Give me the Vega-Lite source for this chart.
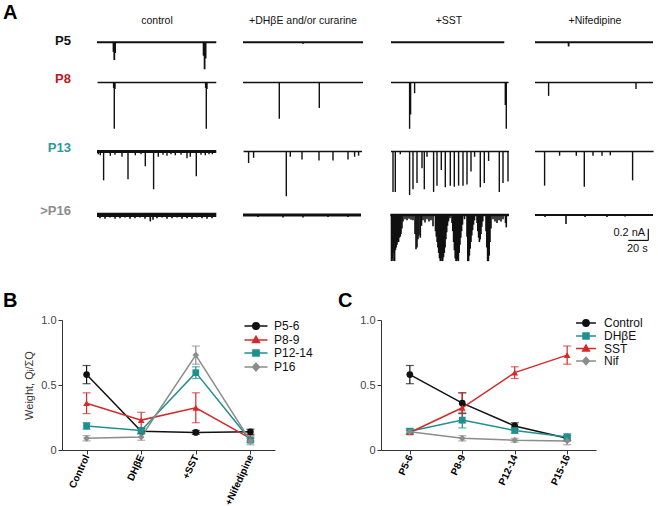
{
"$schema": "https://vega.github.io/schema/vega-lite/v6.json",
"background": "white",
"padding": {"left": 3, "top": 3, "right": 0, "bottom": 0},
"config": {
  "font": "Liberation Sans",
  "view": {"stroke": null},
  "title": {"fontSize": 20, "fontWeight": "bold", "color": "#000", "anchor": "start", "frame": "group"},
  "axis": {"domainColor": "#333", "tickColor": "#333", "tickSize": 4, "grid": false, "labelColor": "#444", "labelFontSize": 11}
},
"datasets": {
  "labels": [{"row": "P5"}, {"row": "P8"}, {"row": "P13"}, {"row": ">P16"}],
  "p5": [
    {"cond": "control", "kind": "base", "t": 0, "t2": 119.3},
    {"cond": "DHbE", "kind": "base", "t": 0, "t2": 120},
    {"cond": "SST", "kind": "base", "t": 2, "t2": 115.3},
    {"cond": "Nif", "kind": "base", "t": 0, "t2": 118},
    {"cond": "control", "kind": "spike", "t": 16.5, "v": -0.18},
    {"cond": "control", "kind": "spike", "t": 17.3, "v": -0.33},
    {"cond": "control", "kind": "spike", "t": 18.1, "v": -0.2},
    {"cond": "control", "kind": "spike", "t": 106.6, "v": -0.25},
    {"cond": "control", "kind": "spike", "t": 107.6, "v": -0.5},
    {"cond": "control", "kind": "spike", "t": 108.6, "v": -0.3},
    {"cond": "DHbE", "kind": "spike", "t": 60, "v": -0.03},
    {"cond": "Nif", "kind": "spike", "t": 33.6, "v": -0.08}
  ],
  "p8": [
    {"cond": "control", "kind": "base", "t": 0.6, "t2": 119.3},
    {"cond": "DHbE", "kind": "base", "t": 0, "t2": 120},
    {"cond": "SST", "kind": "base", "t": 2, "t2": 119.6},
    {"cond": "Nif", "kind": "base", "t": 0, "t2": 118},
    {"cond": "control", "kind": "spike", "t": 16.6, "v": -0.1},
    {"cond": "control", "kind": "spike", "t": 17.3, "v": -0.87},
    {"cond": "control", "kind": "spike", "t": 18, "v": -0.12},
    {"cond": "control", "kind": "spike", "t": 108.6, "v": -0.1},
    {"cond": "control", "kind": "spike", "t": 109.3, "v": -0.87},
    {"cond": "control", "kind": "spike", "t": 110, "v": -0.12},
    {"cond": "DHbE", "kind": "spike", "t": 36.3, "v": -0.68},
    {"cond": "DHbE", "kind": "spike", "t": 76.3, "v": -0.48},
    {"cond": "SST", "kind": "spike", "t": 20.6, "v": -0.87},
    {"cond": "SST", "kind": "spike", "t": 21.6, "v": -0.6},
    {"cond": "SST", "kind": "spike", "t": 25.6, "v": -0.2},
    {"cond": "SST", "kind": "spike", "t": 116.3, "v": -0.42},
    {"cond": "SST", "kind": "spike", "t": 117.3, "v": -0.87},
    {"cond": "Nif", "kind": "spike", "t": 13.6, "v": -0.25},
    {"cond": "Nif", "kind": "spike", "t": 101, "v": -0.12}
  ],
  "p13": [
    {"cond": "control", "kind": "base", "t": 0, "t2": 119.3},
    {"cond": "DHbE", "kind": "base", "t": 0.6, "t2": 119},
    {"cond": "SST", "kind": "base", "t": 2, "t2": 120},
    {"cond": "Nif", "kind": "base", "t": 0, "t2": 118.6},
    {"cond": "control", "kind": "spike", "t": 1.3, "v": -0.05},
    {"cond": "control", "kind": "spike", "t": 3.3, "v": -0.07},
    {"cond": "control", "kind": "spike", "t": 6.6, "v": -0.55},
    {"cond": "control", "kind": "spike", "t": 13.3, "v": -0.08},
    {"cond": "control", "kind": "spike", "t": 18, "v": -0.06},
    {"cond": "control", "kind": "spike", "t": 25, "v": -0.1},
    {"cond": "control", "kind": "spike", "t": 31, "v": -0.53},
    {"cond": "control", "kind": "spike", "t": 38.3, "v": -0.07},
    {"cond": "control", "kind": "spike", "t": 44, "v": -0.05},
    {"cond": "control", "kind": "spike", "t": 48.3, "v": -0.28},
    {"cond": "control", "kind": "spike", "t": 56.6, "v": -0.72},
    {"cond": "control", "kind": "spike", "t": 61.3, "v": -0.1},
    {"cond": "control", "kind": "spike", "t": 66, "v": -0.06},
    {"cond": "control", "kind": "spike", "t": 70, "v": -0.08},
    {"cond": "control", "kind": "spike", "t": 74, "v": -0.05},
    {"cond": "control", "kind": "spike", "t": 78.3, "v": -0.07},
    {"cond": "control", "kind": "spike", "t": 84, "v": -0.06},
    {"cond": "control", "kind": "spike", "t": 90, "v": -0.13},
    {"cond": "control", "kind": "spike", "t": 93.3, "v": -0.1},
    {"cond": "control", "kind": "spike", "t": 99.3, "v": -0.47},
    {"cond": "control", "kind": "spike", "t": 104, "v": -0.06},
    {"cond": "control", "kind": "spike", "t": 108.3, "v": -0.07},
    {"cond": "control", "kind": "spike", "t": 112, "v": -0.05},
    {"cond": "control", "kind": "spike", "t": 115.3, "v": -0.05},
    {"cond": "DHbE", "kind": "spike", "t": 5.6, "v": -0.22},
    {"cond": "DHbE", "kind": "spike", "t": 10.6, "v": -0.12},
    {"cond": "DHbE", "kind": "spike", "t": 43.3, "v": -0.85},
    {"cond": "DHbE", "kind": "spike", "t": 47.3, "v": -0.1},
    {"cond": "DHbE", "kind": "spike", "t": 59, "v": -0.15},
    {"cond": "DHbE", "kind": "spike", "t": 76, "v": -0.17},
    {"cond": "DHbE", "kind": "spike", "t": 90, "v": -0.17},
    {"cond": "DHbE", "kind": "spike", "t": 105, "v": -0.15},
    {"cond": "DHbE", "kind": "spike", "t": 111.6, "v": -0.1},
    {"cond": "DHbE", "kind": "spike", "t": 115.6, "v": -0.08},
    {"cond": "SST", "kind": "spike", "t": 4, "v": -0.77},
    {"cond": "SST", "kind": "spike", "t": 6.3, "v": -0.77},
    {"cond": "SST", "kind": "spike", "t": 11.3, "v": -0.05},
    {"cond": "SST", "kind": "spike", "t": 20.6, "v": -0.83},
    {"cond": "SST", "kind": "spike", "t": 24, "v": -0.72},
    {"cond": "SST", "kind": "spike", "t": 28, "v": -0.6},
    {"cond": "SST", "kind": "spike", "t": 33, "v": -0.32},
    {"cond": "SST", "kind": "spike", "t": 35.3, "v": -0.72},
    {"cond": "SST", "kind": "spike", "t": 38, "v": -0.1},
    {"cond": "SST", "kind": "spike", "t": 44.6, "v": -0.77},
    {"cond": "SST", "kind": "spike", "t": 48, "v": -0.65},
    {"cond": "SST", "kind": "spike", "t": 52.3, "v": -0.35},
    {"cond": "SST", "kind": "spike", "t": 56.3, "v": -0.68},
    {"cond": "SST", "kind": "spike", "t": 61.3, "v": -0.65},
    {"cond": "SST", "kind": "spike", "t": 65.3, "v": -0.67},
    {"cond": "SST", "kind": "spike", "t": 69.6, "v": -0.65},
    {"cond": "SST", "kind": "spike", "t": 74, "v": -0.65},
    {"cond": "SST", "kind": "spike", "t": 78, "v": -0.63},
    {"cond": "SST", "kind": "spike", "t": 82, "v": -0.38},
    {"cond": "SST", "kind": "spike", "t": 85.6, "v": -0.1},
    {"cond": "SST", "kind": "spike", "t": 91.3, "v": -0.68},
    {"cond": "SST", "kind": "spike", "t": 95.3, "v": -0.6},
    {"cond": "SST", "kind": "spike", "t": 99.6, "v": -0.18},
    {"cond": "SST", "kind": "spike", "t": 110.3, "v": -0.77},
    {"cond": "SST", "kind": "spike", "t": 114, "v": -0.6},
    {"cond": "SST", "kind": "spike", "t": 119, "v": -0.57},
    {"cond": "Nif", "kind": "spike", "t": 9.6, "v": -0.65},
    {"cond": "Nif", "kind": "spike", "t": 24.6, "v": -0.08},
    {"cond": "Nif", "kind": "spike", "t": 41.3, "v": -0.08},
    {"cond": "Nif", "kind": "spike", "t": 49.3, "v": -0.67},
    {"cond": "Nif", "kind": "spike", "t": 58, "v": -0.08},
    {"cond": "Nif", "kind": "spike", "t": 67, "v": -0.08},
    {"cond": "Nif", "kind": "spike", "t": 75.3, "v": -0.07},
    {"cond": "Nif", "kind": "spike", "t": 97.6, "v": -0.55}
  ],
  "p16": [
    {"cond": "control", "kind": "base", "t": 0, "t2": 119.3},
    {"cond": "DHbE", "kind": "base", "t": 0, "t2": 118},
    {"cond": "SST", "kind": "base", "t": 1.3, "t2": 120},
    {"cond": "Nif", "kind": "base", "t": 0, "t2": 118},
    {"cond": "control", "kind": "spike", "t": 3, "v": -0.06},
    {"cond": "control", "kind": "spike", "t": 8, "v": -0.07},
    {"cond": "control", "kind": "spike", "t": 13, "v": -0.05},
    {"cond": "control", "kind": "spike", "t": 18, "v": -0.07},
    {"cond": "control", "kind": "spike", "t": 23, "v": -0.06},
    {"cond": "control", "kind": "spike", "t": 28, "v": -0.05},
    {"cond": "control", "kind": "spike", "t": 33, "v": -0.07},
    {"cond": "control", "kind": "spike", "t": 38, "v": -0.06},
    {"cond": "control", "kind": "spike", "t": 43, "v": -0.05},
    {"cond": "control", "kind": "spike", "t": 48, "v": -0.07},
    {"cond": "control", "kind": "spike", "t": 53.3, "v": -0.12},
    {"cond": "control", "kind": "spike", "t": 56, "v": -0.09},
    {"cond": "control", "kind": "spike", "t": 60, "v": -0.06},
    {"cond": "control", "kind": "spike", "t": 65, "v": -0.05},
    {"cond": "control", "kind": "spike", "t": 70, "v": -0.07},
    {"cond": "control", "kind": "spike", "t": 75, "v": -0.06},
    {"cond": "control", "kind": "spike", "t": 80, "v": -0.05},
    {"cond": "control", "kind": "spike", "t": 85, "v": -0.07},
    {"cond": "control", "kind": "spike", "t": 90, "v": -0.06},
    {"cond": "control", "kind": "spike", "t": 95, "v": -0.07},
    {"cond": "control", "kind": "spike", "t": 100, "v": -0.05},
    {"cond": "control", "kind": "spike", "t": 105, "v": -0.06},
    {"cond": "control", "kind": "spike", "t": 110, "v": -0.07},
    {"cond": "control", "kind": "spike", "t": 115, "v": -0.06},
    {"cond": "DHbE", "kind": "spike", "t": 15, "v": -0.04},
    {"cond": "DHbE", "kind": "spike", "t": 40, "v": -0.05},
    {"cond": "DHbE", "kind": "spike", "t": 60, "v": -0.05},
    {"cond": "DHbE", "kind": "spike", "t": 85, "v": -0.04},
    {"cond": "DHbE", "kind": "spike", "t": 105, "v": -0.04},
    {"cond": "SST", "kind": "spike", "t": 2.5, "v": -0.85},
    {"cond": "SST", "kind": "spike", "t": 3.2, "v": -0.8},
    {"cond": "SST", "kind": "spike", "t": 4, "v": -0.85},
    {"cond": "SST", "kind": "spike", "t": 4.8, "v": -0.7},
    {"cond": "SST", "kind": "spike", "t": 5.6, "v": -0.85},
    {"cond": "SST", "kind": "spike", "t": 6.4, "v": -0.65},
    {"cond": "SST", "kind": "spike", "t": 7.2, "v": -0.6},
    {"cond": "SST", "kind": "spike", "t": 8, "v": -0.55},
    {"cond": "SST", "kind": "spike", "t": 8.8, "v": -0.5},
    {"cond": "SST", "kind": "spike", "t": 9.6, "v": -0.5},
    {"cond": "SST", "kind": "spike", "t": 10.4, "v": -0.42},
    {"cond": "SST", "kind": "spike", "t": 11.2, "v": -0.4},
    {"cond": "SST", "kind": "spike", "t": 12, "v": -0.35},
    {"cond": "SST", "kind": "spike", "t": 13, "v": -0.25},
    {"cond": "SST", "kind": "spike", "t": 14, "v": -0.12},
    {"cond": "SST", "kind": "spike", "t": 16, "v": -0.08},
    {"cond": "SST", "kind": "spike", "t": 18, "v": -0.1},
    {"cond": "SST", "kind": "spike", "t": 20, "v": -0.07},
    {"cond": "SST", "kind": "spike", "t": 22, "v": -0.09},
    {"cond": "SST", "kind": "spike", "t": 24, "v": -0.1},
    {"cond": "SST", "kind": "spike", "t": 26, "v": -0.35},
    {"cond": "SST", "kind": "spike", "t": 27, "v": -0.63},
    {"cond": "SST", "kind": "spike", "t": 28, "v": -0.6},
    {"cond": "SST", "kind": "spike", "t": 29, "v": -0.45},
    {"cond": "SST", "kind": "spike", "t": 30, "v": -0.38},
    {"cond": "SST", "kind": "spike", "t": 31.3, "v": -0.42},
    {"cond": "SST", "kind": "spike", "t": 32.5, "v": -0.2},
    {"cond": "SST", "kind": "spike", "t": 34, "v": -0.1},
    {"cond": "SST", "kind": "spike", "t": 36, "v": -0.14},
    {"cond": "SST", "kind": "spike", "t": 38, "v": -0.08},
    {"cond": "SST", "kind": "spike", "t": 40, "v": -0.12},
    {"cond": "SST", "kind": "spike", "t": 42, "v": -0.1},
    {"cond": "SST", "kind": "spike", "t": 44, "v": -0.21},
    {"cond": "SST", "kind": "spike", "t": 46.5, "v": -0.3},
    {"cond": "SST", "kind": "spike", "t": 47.3, "v": -0.4},
    {"cond": "SST", "kind": "spike", "t": 48.1, "v": -0.5},
    {"cond": "SST", "kind": "spike", "t": 48.9, "v": -0.6},
    {"cond": "SST", "kind": "spike", "t": 49.7, "v": -0.7},
    {"cond": "SST", "kind": "spike", "t": 50.5, "v": -0.8},
    {"cond": "SST", "kind": "spike", "t": 51.3, "v": -0.85},
    {"cond": "SST", "kind": "spike", "t": 52.1, "v": -0.85},
    {"cond": "SST", "kind": "spike", "t": 52.9, "v": -0.8},
    {"cond": "SST", "kind": "spike", "t": 53.7, "v": -0.85},
    {"cond": "SST", "kind": "spike", "t": 54.5, "v": -0.78},
    {"cond": "SST", "kind": "spike", "t": 55.3, "v": -0.7},
    {"cond": "SST", "kind": "spike", "t": 56.1, "v": -0.6},
    {"cond": "SST", "kind": "spike", "t": 56.9, "v": -0.45},
    {"cond": "SST", "kind": "spike", "t": 57.7, "v": -0.32},
    {"cond": "SST", "kind": "spike", "t": 58.5, "v": -0.2},
    {"cond": "SST", "kind": "spike", "t": 59.5, "v": -0.12},
    {"cond": "SST", "kind": "spike", "t": 61, "v": -0.06},
    {"cond": "SST", "kind": "spike", "t": 63, "v": -0.15},
    {"cond": "SST", "kind": "spike", "t": 63.8, "v": -0.3},
    {"cond": "SST", "kind": "spike", "t": 64.6, "v": -0.5},
    {"cond": "SST", "kind": "spike", "t": 65.4, "v": -0.65},
    {"cond": "SST", "kind": "spike", "t": 66.2, "v": -0.8},
    {"cond": "SST", "kind": "spike", "t": 67, "v": -0.85},
    {"cond": "SST", "kind": "spike", "t": 67.8, "v": -0.85},
    {"cond": "SST", "kind": "spike", "t": 68.6, "v": -0.82},
    {"cond": "SST", "kind": "spike", "t": 69.4, "v": -0.85},
    {"cond": "SST", "kind": "spike", "t": 70.2, "v": -0.7},
    {"cond": "SST", "kind": "spike", "t": 71, "v": -0.55},
    {"cond": "SST", "kind": "spike", "t": 71.8, "v": -0.42},
    {"cond": "SST", "kind": "spike", "t": 72.6, "v": -0.3},
    {"cond": "SST", "kind": "spike", "t": 73.5, "v": -0.18},
    {"cond": "SST", "kind": "spike", "t": 75.5, "v": -0.08},
    {"cond": "SST", "kind": "spike", "t": 78, "v": -0.4},
    {"cond": "SST", "kind": "spike", "t": 78.8, "v": -0.85},
    {"cond": "SST", "kind": "spike", "t": 79.6, "v": -0.85},
    {"cond": "SST", "kind": "spike", "t": 80.4, "v": -0.75},
    {"cond": "SST", "kind": "spike", "t": 81.2, "v": -0.62},
    {"cond": "SST", "kind": "spike", "t": 82, "v": -0.5},
    {"cond": "SST", "kind": "spike", "t": 82.8, "v": -0.38},
    {"cond": "SST", "kind": "spike", "t": 83.6, "v": -0.28},
    {"cond": "SST", "kind": "spike", "t": 84.5, "v": -0.18},
    {"cond": "SST", "kind": "spike", "t": 85.5, "v": -0.1},
    {"cond": "SST", "kind": "spike", "t": 88, "v": -0.15},
    {"cond": "SST", "kind": "spike", "t": 88.8, "v": -0.3},
    {"cond": "SST", "kind": "spike", "t": 89.6, "v": -0.42},
    {"cond": "SST", "kind": "spike", "t": 90.4, "v": -0.5},
    {"cond": "SST", "kind": "spike", "t": 91.2, "v": -0.45},
    {"cond": "SST", "kind": "spike", "t": 92, "v": -0.35},
    {"cond": "SST", "kind": "spike", "t": 92.8, "v": -0.22},
    {"cond": "SST", "kind": "spike", "t": 93.8, "v": -0.12},
    {"cond": "SST", "kind": "spike", "t": 97, "v": -0.3},
    {"cond": "SST", "kind": "spike", "t": 97.8, "v": -0.6},
    {"cond": "SST", "kind": "spike", "t": 98.6, "v": -0.85},
    {"cond": "SST", "kind": "spike", "t": 99.4, "v": -0.85},
    {"cond": "SST", "kind": "spike", "t": 100.2, "v": -0.75},
    {"cond": "SST", "kind": "spike", "t": 101, "v": -0.5},
    {"cond": "SST", "kind": "spike", "t": 102, "v": -0.25},
    {"cond": "SST", "kind": "spike", "t": 104, "v": -0.08},
    {"cond": "SST", "kind": "spike", "t": 106, "v": -0.12},
    {"cond": "SST", "kind": "spike", "t": 108, "v": -0.15},
    {"cond": "SST", "kind": "spike", "t": 110, "v": -0.1},
    {"cond": "SST", "kind": "spike", "t": 112, "v": -0.12},
    {"cond": "SST", "kind": "spike", "t": 114, "v": -0.08},
    {"cond": "SST", "kind": "spike", "t": 116.5, "v": -0.15},
    {"cond": "SST", "kind": "spike", "t": 117.3, "v": -0.23},
    {"cond": "Nif", "kind": "spike", "t": 10, "v": -0.04},
    {"cond": "Nif", "kind": "spike", "t": 31, "v": -0.17},
    {"cond": "Nif", "kind": "spike", "t": 50, "v": -0.04},
    {"cond": "Nif", "kind": "spike", "t": 72, "v": -0.04},
    {"cond": "Nif", "kind": "spike", "t": 90, "v": -0.03},
    {"cond": "Nif", "kind": "bar", "t": 113.3, "t2": 113.3, "v": -0.255, "v2": -0.47},
    {"cond": "Nif", "kind": "bar", "t": 93.3, "t2": 113.3, "v": -0.47, "v2": -0.47},
    {"cond": "Nif", "kind": "txt", "t": 94.3, "v": -0.34, "text": "0.2 nA"},
    {"cond": "Nif", "kind": "txt", "t": 102.3, "v": -0.62, "text": "20 s"}
  ],
  "weights": [
    {"ageB": "P5-6", "ageC": "P5-6", "ai": 0, "condB": "Control", "condC": "Control", "ci": 0, "mean": 0.58, "lo": 0.51, "hi": 0.65},
    {"ageB": "P5-6", "ageC": "P5-6", "ai": 0, "condB": "DHβE", "condC": "DHβE", "ci": 1, "mean": 0.145, "lo": 0.125, "hi": 0.165},
    {"ageB": "P5-6", "ageC": "P5-6", "ai": 0, "condB": "+SST", "condC": "SST", "ci": 2, "mean": 0.135, "lo": 0.12, "hi": 0.15},
    {"ageB": "P5-6", "ageC": "P5-6", "ai": 0, "condB": "+Nifedipine", "condC": "Nif", "ci": 3, "mean": 0.14, "lo": 0.12, "hi": 0.16},
    {"ageB": "P8-9", "ageC": "P8-9", "ai": 1, "condB": "Control", "condC": "Control", "ci": 0, "mean": 0.36, "lo": 0.28, "hi": 0.44},
    {"ageB": "P8-9", "ageC": "P8-9", "ai": 1, "condB": "DHβE", "condC": "DHβE", "ci": 1, "mean": 0.23, "lo": 0.17, "hi": 0.29},
    {"ageB": "P8-9", "ageC": "P8-9", "ai": 1, "condB": "+SST", "condC": "SST", "ci": 2, "mean": 0.325, "lo": 0.21, "hi": 0.44},
    {"ageB": "P8-9", "ageC": "P8-9", "ai": 1, "condB": "+Nifedipine", "condC": "Nif", "ci": 3, "mean": 0.09, "lo": 0.07, "hi": 0.11},
    {"ageB": "P12-14", "ageC": "P12-14", "ai": 2, "condB": "Control", "condC": "Control", "ci": 0, "mean": 0.185, "lo": 0.16, "hi": 0.21},
    {"ageB": "P12-14", "ageC": "P12-14", "ai": 2, "condB": "DHβE", "condC": "DHβE", "ci": 1, "mean": 0.15, "lo": 0.13, "hi": 0.17},
    {"ageB": "P12-14", "ageC": "P12-14", "ai": 2, "condB": "+SST", "condC": "SST", "ci": 2, "mean": 0.595, "lo": 0.55, "hi": 0.64},
    {"ageB": "P12-14", "ageC": "P12-14", "ai": 2, "condB": "+Nifedipine", "condC": "Nif", "ci": 3, "mean": 0.075, "lo": 0.06, "hi": 0.09},
    {"ageB": "P16", "ageC": "P15-16", "ai": 3, "condB": "Control", "condC": "Control", "ci": 0, "mean": 0.09, "lo": 0.07, "hi": 0.11},
    {"ageB": "P16", "ageC": "P15-16", "ai": 3, "condB": "DHβE", "condC": "DHβE", "ci": 1, "mean": 0.1, "lo": 0.075, "hi": 0.125},
    {"ageB": "P16", "ageC": "P15-16", "ai": 3, "condB": "+SST", "condC": "SST", "ci": 2, "mean": 0.73, "lo": 0.66, "hi": 0.8},
    {"ageB": "P16", "ageC": "P15-16", "ai": 3, "condB": "+Nifedipine", "condC": "Nif", "ci": 3, "mean": 0.07, "lo": 0.04, "hi": 0.1}
  ]
},
"spacing": 0,
"vconcat": [
  {"spacing": 26, "bounds": "flush", "hconcat": [
    {"title": {"text": "A", "dx": -59, "offset": 11}, "width": 9, "height": 38, "data": {"name": "labels"}, "transform": [{"filter": "datum.row == 'P5'"}],
     "mark": {"type": "text", "align": "right", "baseline": "middle", "fontSize": 13, "fontWeight": "bold", "color": "#111"},
     "encoding": {"x": {"value": "width"}, "y": {"datum": 0, "type": "quantitative", "scale": {"domain": [-0.517, 0.1167]}, "axis": null}, "text": {"field": "row"}}},
    {"data": {"name": "p5"}, "spacing": {"column": 26}, "bounds": "flush",
     "facet": {"column": {"field": "cond", "type": "nominal", "sort": ["control", "DHbE", "SST", "Nif"],
       "header": {"title": null, "labelFontSize": 10.5, "labelColor": "#111", "labelPadding": 8,
         "labelExpr": "datum.value == 'control' ? 'control' : datum.value == 'DHbE' ? '+DHβE and/or curarine' : datum.value == 'SST' ? '+SST' : '+Nifedipine'"}}},
     "spec": {"width": 120, "height": 38, "layer": [
       {"transform": [{"filter": "datum.kind == 'base'"}], "mark": {"type": "rule", "color": "#111", "strokeWidth": 2},
        "encoding": {"x": {"field": "t", "type": "quantitative", "scale": {"domain": [0, 120]}, "axis": null}, "x2": {"field": "t2"},
          "y": {"datum": 0, "type": "quantitative", "scale": {"domain": [-0.517, 0.1167]}, "axis": null}}},
       {"transform": [{"filter": "datum.kind == 'spike'"}], "mark": {"type": "rule", "color": "#111", "strokeWidth": 1.8},
        "encoding": {"x": {"field": "t", "type": "quantitative", "axis": null}, "y": {"field": "v", "type": "quantitative", "axis": null}, "y2": {"datum": 0}}}
     ]}}
  ]},
  {"spacing": 26, "bounds": "flush", "hconcat": [
    {"width": 9, "height": 69, "data": {"name": "labels"}, "transform": [{"filter": "datum.row == 'P8'"}],
     "mark": {"type": "text", "align": "right", "baseline": "middle", "fontSize": 13, "fontWeight": "bold", "color": "#c0141e"},
     "encoding": {"x": {"value": "width"}, "y": {"datum": 0, "type": "quantitative", "scale": {"domain": [-1.033, 0.1167]}, "axis": null}, "text": {"field": "row"}}},
    {"data": {"name": "p8"}, "spacing": {"column": 26}, "bounds": "flush",
     "facet": {"column": {"field": "cond", "type": "nominal", "sort": ["control", "DHbE", "SST", "Nif"], "header": null}},
     "spec": {"width": 120, "height": 69, "layer": [
       {"transform": [{"filter": "datum.kind == 'base'"}], "mark": {"type": "rule", "color": "#111", "strokeWidth": 1.5},
        "encoding": {"x": {"field": "t", "type": "quantitative", "scale": {"domain": [0, 120]}, "axis": null}, "x2": {"field": "t2"},
          "y": {"datum": 0, "type": "quantitative", "scale": {"domain": [-1.033, 0.1167]}, "axis": null}}},
       {"transform": [{"filter": "datum.kind == 'spike'"}], "mark": {"type": "rule", "color": "#111", "strokeWidth": 1.4},
        "encoding": {"x": {"field": "t", "type": "quantitative", "axis": null}, "y": {"field": "v", "type": "quantitative", "axis": null}, "y2": {"datum": 0}}}
     ]}}
  ]},
  {"spacing": 26, "bounds": "flush", "hconcat": [
    {"width": 9, "height": 63, "data": {"name": "labels"}, "transform": [{"filter": "datum.row == 'P13'"}],
     "mark": {"type": "text", "align": "right", "baseline": "middle", "fontSize": 13, "fontWeight": "bold", "color": "#2a9a9a"},
     "encoding": {"x": {"value": "width"}, "y": {"datum": 0, "type": "quantitative", "scale": {"domain": [-0.933, 0.1167]}, "axis": null}, "text": {"field": "row"}}},
    {"data": {"name": "p13"}, "spacing": {"column": 26}, "bounds": "flush",
     "facet": {"column": {"field": "cond", "type": "nominal", "sort": ["control", "DHbE", "SST", "Nif"], "header": null}},
     "spec": {"width": 120, "height": 63, "layer": [
       {"transform": [{"filter": "datum.kind == 'base'"}], "mark": {"type": "rule", "color": "#111"},
        "encoding": {"x": {"field": "t", "type": "quantitative", "scale": {"domain": [0, 120]}, "axis": null}, "x2": {"field": "t2"},
          "y": {"datum": 0, "type": "quantitative", "scale": {"domain": [-0.933, 0.1167]}, "axis": null},
          "strokeWidth": {"condition": {"test": "datum.cond == 'control'", "value": 3.2}, "value": 1.6}}},
       {"transform": [{"filter": "datum.kind == 'spike'"}], "mark": {"type": "rule", "color": "#111", "strokeWidth": 1.4},
        "encoding": {"x": {"field": "t", "type": "quantitative", "axis": null}, "y": {"field": "v", "type": "quantitative", "axis": null}, "y2": {"datum": 0}}}
     ]}}
  ]},
  {"spacing": 26, "bounds": "flush", "hconcat": [
    {"width": 9, "height": 87, "data": {"name": "labels"}, "transform": [{"filter": "datum.row == '>P16'"}],
     "mark": {"type": "text", "align": "right", "baseline": "middle", "fontSize": 13, "fontWeight": "bold", "color": "#8c8c8c"},
     "encoding": {"x": {"value": "width"}, "y": {"datum": 0, "type": "quantitative", "scale": {"domain": [-1.333, 0.1167]}, "axis": null}, "text": {"field": "row"}}},
    {"data": {"name": "p16"}, "spacing": {"column": 26}, "bounds": "flush",
     "facet": {"column": {"field": "cond", "type": "nominal", "sort": ["control", "DHbE", "SST", "Nif"], "header": null}},
     "spec": {"width": 120, "height": 87, "layer": [
       {"transform": [{"filter": "datum.kind == 'base'"}], "mark": {"type": "rule", "color": "#111"},
        "encoding": {"x": {"field": "t", "type": "quantitative", "scale": {"domain": [0, 120]}, "axis": null}, "x2": {"field": "t2"},
          "y": {"datum": 0, "type": "quantitative", "scale": {"domain": [-1.333, 0.1167]}, "axis": null},
          "strokeWidth": {"condition": [{"test": "datum.cond == 'control'", "value": 4.2}, {"test": "datum.cond == 'DHbE'", "value": 3}, {"test": "datum.cond == 'SST'", "value": 2.5}], "value": 2}}},
       {"transform": [{"filter": "datum.kind == 'spike'"}], "mark": {"type": "rule", "color": "#111", "strokeWidth": 1.6},
        "encoding": {"x": {"field": "t", "type": "quantitative", "axis": null}, "y": {"field": "v", "type": "quantitative", "axis": null}, "y2": {"datum": 0}}},
       {"transform": [{"filter": "datum.kind == 'bar'"}], "mark": {"type": "rule", "color": "#111", "strokeWidth": 1.2},
        "encoding": {"x": {"field": "t", "type": "quantitative", "axis": null}, "x2": {"field": "t2"}, "y": {"field": "v", "type": "quantitative", "axis": null}, "y2": {"field": "v2"}}},
       {"transform": [{"filter": "datum.kind == 'txt'"}], "mark": {"type": "text", "color": "#111", "fontSize": 11, "align": "center", "baseline": "middle"},
        "encoding": {"x": {"field": "t", "type": "quantitative", "axis": null}, "y": {"field": "v", "type": "quantitative", "axis": null}, "text": {"field": "text"}}}
     ]}}
  ]},
  {"spacing": 25,
   "resolve": {"scale": {"color": "independent", "fill": "independent", "stroke": "independent", "shape": "independent"},
               "legend": {"color": "independent", "fill": "independent", "stroke": "independent", "shape": "independent"}},
   "hconcat": [
    {"title": {"text": "B", "dx": -59, "offset": 3}, "width": 213, "height": 130, "data": {"name": "weights"},
     "resolve": {"scale": {"color": "independent", "fill": "independent", "stroke": "independent", "shape": "independent"}},
     "encoding": {"x": {"field": "condB", "type": "nominal", "sort": ["Control", "DHβE", "+SST", "+Nifedipine"], "scale": {"type": "point", "padding": 0.45},
       "axis": {"title": null, "labelAngle": -65, "labelFontWeight": "bold", "labelFontSize": 10, "labelColor": "#000", "labelPadding": 1}}},
     "layer": [
       {"mark": {"type": "errorbar", "thickness": 1.2, "ticks": {"size": 8, "thickness": 1.2}},
        "encoding": {"y": {"field": "lo", "type": "quantitative", "scale": {"domain": [0, 1]},
           "axis": {"title": "Weight, Qᵢ/ΣQ", "values": [0, 0.5, 1], "labelExpr": "datum.value == 0 ? '0' : format(datum.value, '.1f')", "titleFontSize": 11, "titleFontWeight": "normal", "titleColor": "#333", "titlePadding": 6}},
          "y2": {"field": "hi"},
          "color": {"field": "ageB", "type": "nominal", "scale": {"domain": ["P5-6", "P8-9", "P12-14", "P16"], "range": ["#111111", "#d42a2a", "#1f9090", "#8c8c8c"]}, "legend": null}}},
       {"mark": {"type": "line", "strokeWidth": 1.5},
        "encoding": {"y": {"field": "mean", "type": "quantitative",
           "axis": {"title": "Weight, Qᵢ/ΣQ", "values": [0, 0.5, 1], "labelExpr": "datum.value == 0 ? '0' : format(datum.value, '.1f')", "titleFontSize": 11, "titleFontWeight": "normal", "titleColor": "#333", "titlePadding": 6}},
          "order": {"field": "ci"},
          "stroke": {"field": "ageB", "type": "nominal", "scale": {"domain": ["P5-6", "P8-9", "P12-14", "P16"], "range": ["#111111", "#d42a2a", "#1f9090", "#8c8c8c"]}, "legend": null}}},
       {"mark": {"type": "point", "filled": true, "opacity": 1, "size": 45},
        "encoding": {"y": {"field": "mean", "type": "quantitative",
           "axis": {"title": "Weight, Qᵢ/ΣQ", "values": [0, 0.5, 1], "labelExpr": "datum.value == 0 ? '0' : format(datum.value, '.1f')", "titleFontSize": 11, "titleFontWeight": "normal", "titleColor": "#333", "titlePadding": 6}},
          "fill": {"field": "ageB", "type": "nominal", "scale": {"domain": ["P5-6", "P8-9", "P12-14", "P16"], "range": ["#111111", "#d42a2a", "#1f9090", "#8c8c8c"]}, "legend": null},
          "shape": {"field": "ageB", "type": "nominal", "scale": {"domain": ["P5-6", "P8-9", "P12-14", "P16"], "range": ["circle", "triangle-up", "square", "diamond"]}, "legend": null}}},
       {"transform": [{"filter": "false"}],
        "mark": {"type": "point", "filled": true, "opacity": 1},
        "encoding": {"y": {"field": "mean", "type": "quantitative",
           "axis": {"title": "Weight, Qᵢ/ΣQ", "values": [0, 0.5, 1], "labelExpr": "datum.value == 0 ? '0' : format(datum.value, '.1f')", "titleFontSize": 11, "titleFontWeight": "normal", "titleColor": "#333", "titlePadding": 6}},
          "fill": {"field": "ageB", "type": "nominal", "scale": {"domain": ["P5-6", "P8-9", "P12-14", "P16"], "range": ["#111111", "#d42a2a", "#1f9090", "#8c8c8c"]},
            "legend": {"orient": "none", "legendX": 188, "legendY": 0, "title": null, "symbolSize": 59, "symbolStrokeWidth": 1.5, "symbolOpacity": 1, "labelFontSize": 12, "labelColor": "#111", "labelOffset": 12, "rowPadding": 0, "padding": 0}},
          "stroke": {"field": "ageB", "type": "nominal", "scale": {"domain": ["P5-6", "P8-9", "P12-14", "P16"], "range": ["#111111", "#d42a2a", "#1f9090", "#8c8c8c"]},
            "legend": {"orient": "none", "legendX": 188, "legendY": 0, "title": null, "symbolSize": 59, "symbolStrokeWidth": 1.5, "symbolOpacity": 1, "labelFontSize": 12, "labelColor": "#111", "labelOffset": 12, "rowPadding": 0, "padding": 0}},
          "shape": {"field": "ageB", "type": "nominal", "scale": {"domain": ["P5-6", "P8-9", "P12-14", "P16"],
              "range": ["M-3,0H3M0.85,0A0.85,0.85 0 1,1 -0.85,0A0.85,0.85 0 1,1 0.85,0Z", "M-3,0H3M0,-0.95L0.9,0.65L-0.9,0.65Z", "M-3,0H3M-0.8,-0.8H0.8V0.8H-0.8Z", "M-3,0H3M0,-1L0.9,0L0,1L-0.9,0Z"]},
            "legend": {"orient": "none", "legendX": 188, "legendY": 0, "title": null, "symbolSize": 59, "symbolStrokeWidth": 1.5, "symbolOpacity": 1, "labelFontSize": 12, "labelColor": "#111", "labelOffset": 12, "rowPadding": 0, "padding": 0}}}}
     ]},
    {"title": {"text": "C", "dx": -43, "offset": 3}, "width": 215, "height": 130, "data": {"name": "weights"},
     "resolve": {"scale": {"color": "independent", "fill": "independent", "stroke": "independent", "shape": "independent"}},
     "encoding": {"x": {"field": "ageC", "type": "nominal", "sort": ["P5-6", "P8-9", "P12-14", "P15-16"], "scale": {"type": "point", "padding": 0.55},
       "axis": {"title": null, "labelAngle": -65, "labelFontWeight": "bold", "labelFontSize": 10, "labelColor": "#000", "labelPadding": 1}}},
     "layer": [
       {"mark": {"type": "errorbar", "thickness": 1.2, "ticks": {"size": 8, "thickness": 1.2}},
        "encoding": {"y": {"field": "lo", "type": "quantitative", "scale": {"domain": [0, 1]},
           "axis": {"title": null, "values": [0, 0.5, 1], "labelExpr": "datum.value == 0 ? '0' : format(datum.value, '.1f')"}},
          "y2": {"field": "hi"},
          "color": {"field": "condC", "type": "nominal", "scale": {"domain": ["Control", "DHβE", "SST", "Nif"], "range": ["#111111", "#1f9090", "#d42a2a", "#8c8c8c"]}, "legend": null}}},
       {"mark": {"type": "line", "strokeWidth": 1.5},
        "encoding": {"y": {"field": "mean", "type": "quantitative", "axis": {"title": null, "values": [0, 0.5, 1], "labelExpr": "datum.value == 0 ? '0' : format(datum.value, '.1f')"}},
          "order": {"field": "ai"},
          "stroke": {"field": "condC", "type": "nominal", "scale": {"domain": ["Control", "DHβE", "SST", "Nif"], "range": ["#111111", "#1f9090", "#d42a2a", "#8c8c8c"]}, "legend": null}}},
       {"mark": {"type": "point", "filled": true, "opacity": 1, "size": 45},
        "encoding": {"y": {"field": "mean", "type": "quantitative", "axis": {"title": null, "values": [0, 0.5, 1], "labelExpr": "datum.value == 0 ? '0' : format(datum.value, '.1f')"}},
          "fill": {"field": "condC", "type": "nominal", "scale": {"domain": ["Control", "DHβE", "SST", "Nif"], "range": ["#111111", "#1f9090", "#d42a2a", "#8c8c8c"]}, "legend": null},
          "shape": {"field": "condC", "type": "nominal", "scale": {"domain": ["Control", "DHβE", "SST", "Nif"], "range": ["circle", "square", "triangle-up", "diamond"]}, "legend": null}}},
       {"transform": [{"filter": "false"}],
        "mark": {"type": "point", "filled": true, "opacity": 1},
        "encoding": {"y": {"field": "mean", "type": "quantitative", "axis": {"title": null, "values": [0, 0.5, 1], "labelExpr": "datum.value == 0 ? '0' : format(datum.value, '.1f')"}},
          "fill": {"field": "condC", "type": "nominal", "scale": {"domain": ["Control", "DHβE", "SST", "Nif"], "range": ["#111111", "#1f9090", "#d42a2a", "#8c8c8c"]},
            "legend": {"orient": "none", "legendX": 199, "legendY": -3, "title": null, "symbolSize": 44, "symbolStrokeWidth": 1.5, "symbolOpacity": 1, "labelFontSize": 12, "labelColor": "#111", "labelOffset": 12, "rowPadding": -0.5, "padding": 0}},
          "stroke": {"field": "condC", "type": "nominal", "scale": {"domain": ["Control", "DHβE", "SST", "Nif"], "range": ["#111111", "#1f9090", "#d42a2a", "#8c8c8c"]},
            "legend": {"orient": "none", "legendX": 199, "legendY": -3, "title": null, "symbolSize": 44, "symbolStrokeWidth": 1.5, "symbolOpacity": 1, "labelFontSize": 12, "labelColor": "#111", "labelOffset": 12, "rowPadding": -0.5, "padding": 0}},
          "shape": {"field": "condC", "type": "nominal", "scale": {"domain": ["Control", "DHβE", "SST", "Nif"],
              "range": ["M-3,0H3M0.95,0A0.95,0.95 0 1,1 -0.95,0A0.95,0.95 0 1,1 0.95,0Z", "M-3,0H3M-0.9,-0.9H0.9V0.9H-0.9Z", "M-3,0H3M0,-1.05L1,0.75L-1,0.75Z", "M-3,0H3M0,-1.1L1,0L0,1.1L-1,0Z"]},
            "legend": {"orient": "none", "legendX": 199, "legendY": -3, "title": null, "symbolSize": 44, "symbolStrokeWidth": 1.5, "symbolOpacity": 1, "labelFontSize": 12, "labelColor": "#111", "labelOffset": 12, "rowPadding": -0.5, "padding": 0}}}}
     ]}
  ]}
]
}
